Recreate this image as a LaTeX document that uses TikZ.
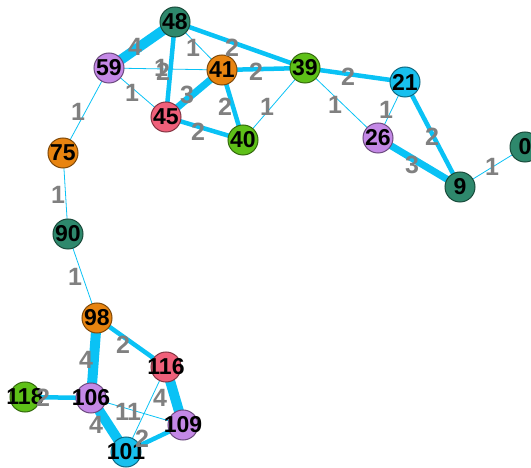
\documentclass[tikz,border=0pt]{standalone}
\usepackage{fontspec}
\setmainfont{Liberation Sans}
\definecolor{edgeblue}{RGB}{10,194,245}
\definecolor{labgray}{RGB}{128,128,128}
\definecolor{cteal}{RGB}{46,136,108}
\definecolor{cpurple}{RGB}{196,136,230}
\definecolor{corange}{RGB}{232,132,16}
\definecolor{cgreen}{RGB}{94,192,24}
\definecolor{cpink}{RGB}{240,96,122}
\definecolor{ccyan}{RGB}{24,192,238}
% vertex text takes no width, so every circle keeps the same size
\newcommand\vtxtext[1]{\makebox[0pt]{#1}}
\tikzset{
  vtx/.style={circle, minimum size=30pt, inner sep=0pt, line width=1pt,
    font=\bfseries\fontsize{23}{23}\selectfont, text=black},
  vteal/.style={vtx, fill=cteal, draw=cteal!55!black},
  vpurple/.style={vtx, fill=cpurple, draw=cpurple!55!black},
  vorange/.style={vtx, fill=corange, draw=corange!55!black},
  vgreen/.style={vtx, fill=cgreen, draw=cgreen!55!black},
  vpink/.style={vtx, fill=cpink, draw=cpink!55!black},
  vcyan/.style={vtx, fill=ccyan, draw=ccyan!55!black},
  elab/.style={text=labgray, inner sep=0pt, font=\bfseries\fontsize{25}{25}\selectfont},
  w1/.style={draw=edgeblue, line width=0.8pt},
  w2/.style={draw=edgeblue, line width=4.5pt},
  w3/.style={draw=edgeblue, line width=7pt},
  w4/.style={draw=edgeblue, line width=10pt},
}
\begin{document}
\begin{tikzpicture}[x=1pt, y=-1pt]
\useasboundingbox (0,0) rectangle (531,468);
% vertex positions
\coordinate (p48) at (175,22);
\coordinate (p59) at (109,68);
\coordinate (p41) at (222,70);
\coordinate (p39) at (305,68);
\coordinate (p45) at (166,117);
\coordinate (p40) at (243,140);
\coordinate (p21) at (405,82);
\coordinate (p26) at (378,138);
\coordinate (p9) at (460,187);
\coordinate (p0) at (525,147);
\coordinate (p75) at (63,153);
\coordinate (p90) at (68,234);
\coordinate (p98) at (97,318);
\coordinate (p116) at (166,367);
\coordinate (p106) at (91,398);
\coordinate (p118) at (25,397);
\coordinate (p109) at (183,425);
\coordinate (p101) at (126,452);
% weighted edges
\path[w4] (p48) -- (p59);
\path[w1] (p48) -- (p41);
\path[w2] (p48) -- (p45);
\path[w2] (p48) -- (p39);
\path[w1] (p59) -- (p41);
\path[w1] (p59) -- (p45);
\path[w3] (p45) -- (p41);
\path[w2] (p41) -- (p39);
\path[w2] (p41) -- (p40);
\path[w2] (p45) -- (p40);
\path[w1] (p40) -- (p39);
\path[w2] (p39) -- (p21);
\path[w1] (p39) -- (p26);
\path[w1] (p21) -- (p26);
\path[w2] (p21) -- (p9);
\path[w3] (p26) -- (p9);
\path[w1] (p9) -- (p0);
\path[w1] (p59) -- (p75);
\path[w1] (p75) -- (p90);
\path[w1] (p90) -- (p98);
\path[w4] (p98) -- (p106);
\path[w2] (p98) -- (p116);
\path[w2] (p118) -- (p106);
\path[w1] (p106) -- (p109);
\path[w4] (p106) -- (p101);
\path[w4] (p116) -- (p109);
\path[w1] (p116) -- (p101);
\path[w2] (p101) -- (p109);
% vertices
\node[vteal] (n48) at (p48) {\vtxtext{48}};
\node[vpurple] (n59) at (p59) {\vtxtext{59}};
\node[vorange] (n41) at (p41) {\vtxtext{41}};
\node[vgreen] (n39) at (p39) {\vtxtext{39}};
\node[vpink] (n45) at (p45) {\vtxtext{45}};
\node[vgreen] (n40) at (p40) {\vtxtext{40}};
\node[vcyan] (n21) at (p21) {\vtxtext{21}};
\node[vpurple] (n26) at (p26) {\vtxtext{26}};
\node[vteal] (n9) at (p9) {\vtxtext{9}};
\node[vteal] (n0) at (p0) {\vtxtext{0}};
\node[vorange] (n75) at (p75) {\vtxtext{75}};
\node[vteal] (n90) at (p90) {\vtxtext{90}};
\node[vorange] (n98) at (p98) {\vtxtext{98}};
\node[vpink] (n116) at (p116) {\vtxtext{116}};
\node[vpurple] (n106) at (p106) {\vtxtext{106}};
\node[vgreen] (n118) at (p118) {\vtxtext{118}};
\node[vpurple] (n109) at (p109) {\vtxtext{109}};
\node[vcyan] (n101) at (p101) {\vtxtext{101}};
% edge weights
\node[elab] (l4859) at (135,47) {4};
\node[elab] (l4841) at (193,48) {1};
\node[elab] (l4839) at (232,48) {2};
\node[elab] (l5941) at (161,68) {1};
\node[elab] (l4845) at (163,72) {2};
\node[elab] (l5945) at (132,93) {1};
\node[elab] (l4541) at (187,95) {3};
\node[elab] (l4139) at (256,72) {2};
\node[elab] (l4140) at (225,107) {2};
\node[elab] (l4540) at (198,132) {2};
\node[elab] (l4039) at (267,107) {1};
\node[elab] (l3921) at (348,77) {2};
\node[elab] (l3926) at (335,105) {1};
\node[elab] (l2126) at (386,110) {1};
\node[elab] (l219) at (432,137) {2};
\node[elab] (l269) at (412,165) {3};
\node[elab] (l90) at (492,167) {1};
\node[elab] (l5975) at (78,112) {1};
\node[elab] (l7590) at (58,195) {1};
\node[elab] (l9098) at (75,277) {1};
\node[elab] (l98106) at (86,360) {4};
\node[elab] (l98116) at (123,345) {2};
\node[elab] (l118106) at (43,398) {2};
\node[elab] (l106109) at (122,412) {1};
\node[elab] (l116101) at (134,412) {1};
\node[elab] (l116109) at (160,398) {4};
\node[elab] (l106101) at (96,425) {4};
\node[elab] (l101109) at (142,439) {2};
\end{tikzpicture}
\end{document}
